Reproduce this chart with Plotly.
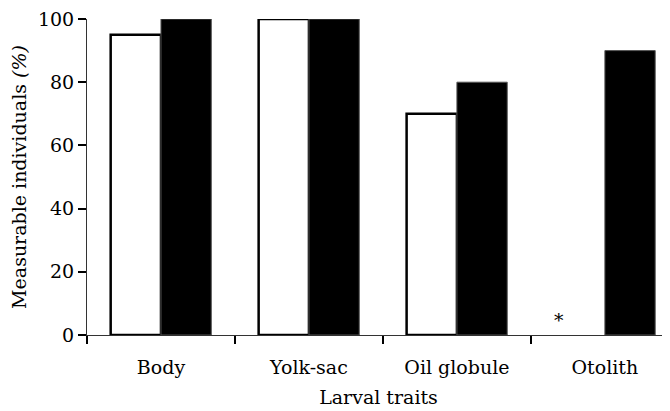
import plotly.graph_objects as go

categories = ["Body", "Yolk-sac", "Oil globule", "Otolith"]
white_values = [95, 100, 70, None]   # Otolith not measurable (*)
black_values = [100, 100, 80, 90]
y_ticks = [0, 20, 40, 60, 80, 100]

FONT = "DejaVu Serif"

fig = go.Figure()
fig.add_trace(go.Bar(
    x=categories, y=white_values, name="white",
    marker=dict(color="white", line=dict(color="black", width=2.5)),
))
fig.add_trace(go.Bar(
    x=categories, y=black_values, name="black",
    marker=dict(color="black", line=dict(color="#555555", width=1)),
))

fig.add_annotation(
    x=3, y=0, xref="x", yref="y", text="*", showarrow=False,
    xshift=-46, yanchor="bottom", yshift=2,
    font=dict(family=FONT, size=19, color="black"),
)

fig.update_layout(
    width=670, height=411,
    margin=dict(l=79, r=8, t=11, b=84),
    paper_bgcolor="white", plot_bgcolor="white",
    barmode="group", bargap=0.32, bargroupgap=0,
    showlegend=False,
    font=dict(family=FONT, size=19, color="black"),
    xaxis=dict(
        type="category", range=[-0.5, 3.44], automargin=False,
        showline=True, linecolor="#333333", linewidth=1,
        ticks="outside", tickson="boundaries", ticklen=8, tickcolor="black", tickwidth=1.5,
        ticklabelstandoff=15, ticklabeloverflow="allow",
        showgrid=False, zeroline=False,
        title=dict(text="Larval traits", standoff=13, font=dict(size=19)),
        tickfont=dict(size=19),
    ),
    yaxis=dict(
        range=[0, 100], tickvals=y_ticks, automargin=False,
        showline=True, linecolor="#333333", linewidth=1,
        ticks="outside", ticklen=8, tickcolor="black", tickwidth=1.5,
        ticklabeloverflow="allow",
        showgrid=False, zeroline=False,
        title=dict(text="Measurable individuals <i>(%)</i>", standoff=18, font=dict(size=19)),
        tickfont=dict(size=19),
    ),
)

fig.write_html("out.html")
